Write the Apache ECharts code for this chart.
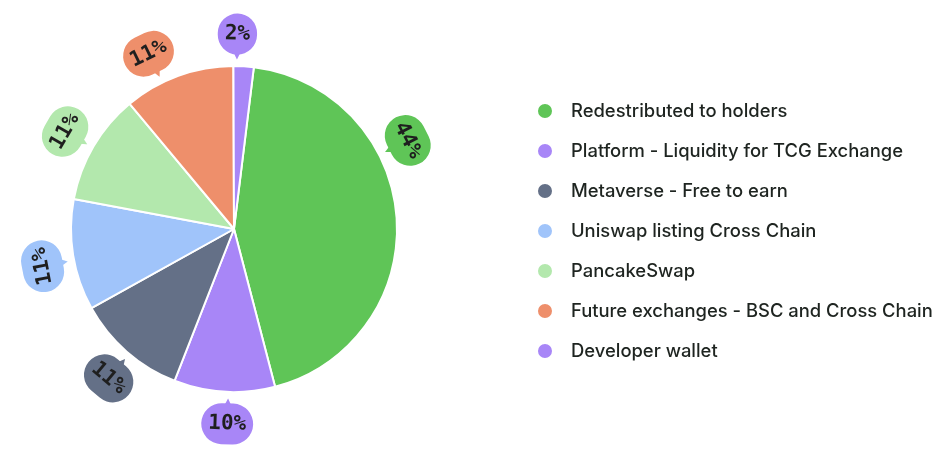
<!DOCTYPE html>
<html>
<head>
<meta charset="utf-8">
<script src="https://cdn.jsdelivr.net/npm/echarts@6/dist/echarts.min.js"></script>
<style>
html,body{margin:0;padding:0;background:#fff;}
#chart{width:940px;height:461px;}
</style>
</head>
<body>
<div id="chart"></div>
<script>
const categories = [
  'Redestributed to holders',
  'Platform - Liquidity for TCG Exchange',
  'Metaverse - Free to earn',
  'Uniswap listing Cross Chain',
  'PancakeSwap',
  'Future exchanges - BSC and Cross Chain',
  'Developer wallet'
];
const shares = [44, 10, 11, 11, 11, 11, 2];
const colors = ['#5fc557', '#a886f7', '#647087', '#a0c4fa', '#b3e8ad', '#ee8f6b', '#a886f7'];
// where each percentage bubble sits, in degrees clockwise from 12 o'clock (layout only)
const labelAngles = [63, 182, 220, 259, 300, 334, 1];

const CENTER = [234, 229];
const START_ANGLE = 83;
const BUBBLE_R = 195;
const TAIL_R = 173;
const toRad = d => d * Math.PI / 180;

function bubbleRotation(theta) {
  const flipped = theta > 90 && theta < 250;
  let rot = flipped ? 180 - theta : -theta;
  while (rot > 180) rot -= 360;
  while (rot < -180) rot += 360;
  return rot;
}

const bubbleData = categories.map((name, i) => ({
  name: name,
  value: shares[i],
  label: {
    rotate: bubbleRotation(labelAngles[i]),
    formatter: '{v|' + shares[i] + '%}',
    rich: {
      v: {
        backgroundColor: colors[i],
        borderRadius: 21,
        padding: [10, 7, 10, 7],
        fontFamily: 'DejaVu Sans Mono',
        fontWeight: 'bold',
        fontSize: 21,
        lineHeight: 21,
        color: '#1f1f1f',
        align: 'center'
      }
    }
  }
}));

const tailData = categories.map((name, i) => ({
  name: name,
  value: shares[i],
  label: {
    rotate: -labelAngles[i],
    formatter: '\u25BC',
    color: colors[i],
    fontFamily: 'DejaVu Sans',
    fontSize: 9
  }
}));

function placeAt(radius) {
  return function (params) {
    const a = toRad(labelAngles[params.dataIndex]);
    return {
      x: CENTER[0] + radius * Math.sin(a),
      y: CENTER[1] - radius * Math.cos(a)
    };
  };
}

const ringBase = {
  type: 'pie',
  center: CENTER,
  radius: [170, 200],
  startAngle: START_ANGLE,
  clockwise: true,
  silent: true,
  itemStyle: { color: 'rgba(0,0,0,0)' },
  labelLine: { show: false },
  emphasis: { disabled: true }
};

const chart = echarts.init(document.getElementById('chart'));
chart.setOption({
  animation: false,
  legend: {
    orient: 'vertical',
    left: 531,
    top: 97,
    icon: 'circle',
    itemWidth: 34,
    itemHeight: 16,
    itemGap: 22,
    data: categories,
    selectedMode: false,
    textStyle: {
      fontFamily: 'Inter',
      fontSize: 18.4,
      lineHeight: 18,
      fontWeight: 500,
      color: '#1e2420',
      padding: [0, 0, 0, 4]
    }
  },
  series: [
    {
      type: 'pie',
      center: CENTER,
      radius: [0, 163],
      startAngle: START_ANGLE,
      clockwise: true,
      silent: true,
      label: { show: false },
      labelLine: { show: false },
      itemStyle: { borderColor: '#fff', borderWidth: 2 },
      data: categories.map((name, i) => ({ name: name, value: shares[i], itemStyle: { color: colors[i] } }))
    },
    Object.assign({}, ringBase, {
      label: { show: true, position: 'inside' },
      labelLayout: placeAt(TAIL_R),
      data: tailData
    }),
    Object.assign({}, ringBase, {
      label: { show: true, position: 'inside' },
      labelLayout: placeAt(BUBBLE_R),
      data: bubbleData
    })
  ]
});
</script>
</body>
</html>
